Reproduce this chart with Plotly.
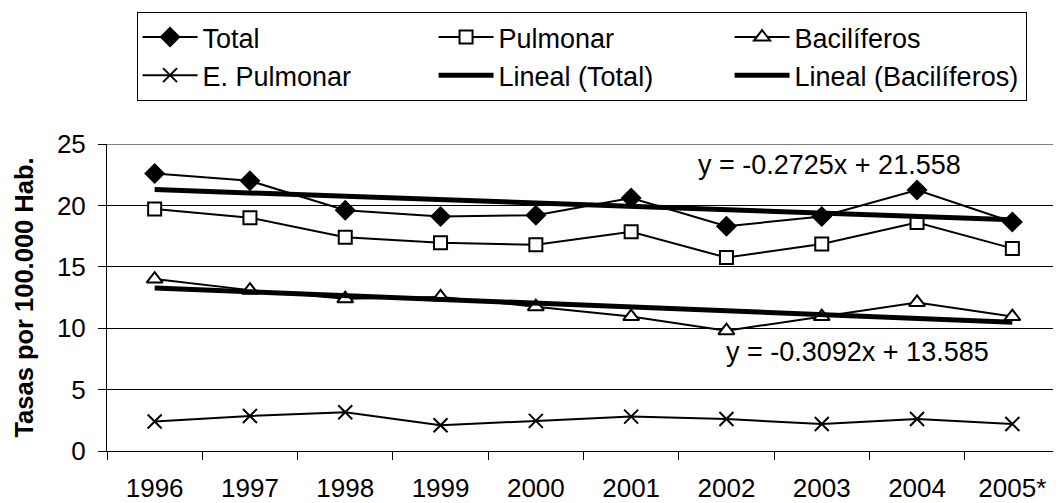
import plotly.graph_objects as go

years = ["1996", "1997", "1998", "1999", "2000", "2001", "2002", "2003", "2004", "2005*"]
total = [22.6, 22.0, 19.6, 19.1, 19.2, 20.6, 18.3, 19.1, 21.25, 18.65]
pulmonar = [19.7, 19.0, 17.4, 16.95, 16.8, 17.85, 15.75, 16.85, 18.6, 16.5]
bacil = [14.0, 13.1, 12.4, 12.55, 11.75, 10.95, 9.8, 10.95, 12.1, 10.95]
epulmonar = [2.4, 2.85, 3.15, 2.1, 2.45, 2.8, 2.6, 2.2, 2.6, 2.2]

trend_total = (-0.2725, 21.558)
trend_bacil = (-0.3092, 13.585)

def trend(coef):
    m, b = coef
    return [m * (i + 1) + b for i in range(len(years))]

FONT = "Liberation Sans, Arial, sans-serif"
FS = 26
FL = 27
fig = go.Figure()

def series(name, y, symbol, color_fill, size=13):
    fig.add_trace(go.Scatter(
        x=years, y=y, name=name, mode="lines+markers",
        line=dict(color="black", width=2),
        marker=dict(symbol=symbol, size=size, color=color_fill,
                    line=dict(color="black", width=2)),
    ))

series("Total", total, "diamond", "black", 14)
series("Pulmonar", pulmonar, "square", "white", 13)
series("Bacilíferos", bacil, "triangle-up", "white", 14)
series("E. Pulmonar", epulmonar, "x-thin-open", "black", 14)
fig.add_trace(go.Scatter(x=years, y=trend(trend_total), name="Lineal (Total)",
                         mode="lines", line=dict(color="black", width=5)))
fig.add_trace(go.Scatter(x=years, y=trend(trend_bacil), name="Lineal (Bacilíferos)",
                         mode="lines", line=dict(color="black", width=5)))

fig.add_annotation(x=0.758, y=23.3, xref="paper", yref="y", xanchor="center",
                   text="y = -0.2725x + 21.558", showarrow=False,
                   font=dict(size=FL, color="black", family=FONT))
fig.add_annotation(x=0.787, y=8.05, xref="paper", yref="y", xanchor="center",
                   text="y = -0.3092x + 13.585", showarrow=False,
                   font=dict(size=FL, color="black", family=FONT))

fig.update_layout(
    width=1053, height=495,
    margin=dict(l=99, r=1, t=136, b=52, autoexpand=False),
    paper_bgcolor="white", plot_bgcolor="white",
    font=dict(family=FONT, size=FS, color="black"),
    showlegend=True,
    legend=dict(
        orientation="h", x=0.031, xanchor="left", y=1.43, yanchor="top",
        bordercolor="black", borderwidth=1, bgcolor="white",
        entrywidth=226, entrywidthmode="pixels", itemwidth=55,
        font=dict(size=FL, family=FONT), traceorder="normal",
    ),
    xaxis=dict(
        type="category", tickson="boundaries", ticks="outside", ticklen=8,
        tickcolor="black", showline=True, linecolor="black", linewidth=1,
        showgrid=False, tickfont=dict(size=FS), range=[-0.5, 9.5],
        automargin=False, ticklabelstandoff=14,
    ),
    yaxis=dict(
        range=[0, 25], dtick=5, ticks="outside", ticklen=8, tickcolor="black",
        showline=True, linecolor="black", linewidth=1,
        showgrid=True, gridcolor="black", gridwidth=1, zeroline=False,
        tickfont=dict(size=FS), automargin=False, ticklabelstandoff=7,
        title=dict(text="<b>Tasas por 100.000 Hab.</b>", font=dict(size=25.5), standoff=15),
    ),
)
fig.add_shape(type="line", xref="paper", yref="y", x0=0, x1=1, y0=25, y1=25,
              line=dict(color="#808080", width=2))

fig.write_html("out.html")
